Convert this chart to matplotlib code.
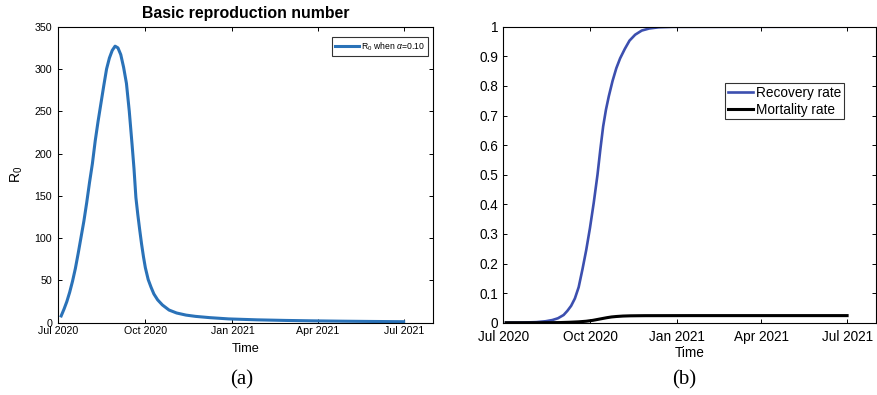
import matplotlib
matplotlib.use("Agg")
import matplotlib.pyplot as plt
import matplotlib.dates as mdates
import numpy as np

plt.rcParams.update({
    "font.family": ["Liberation Sans", "DejaVu Sans"],
    "axes.linewidth": 0.8,
    "mathtext.fontset": "custom",
    "mathtext.rm": "Liberation Sans",
    "mathtext.it": "Liberation Sans:italic",
})

START = np.datetime64("2020-07-01")

# -- panel (a): basic reproduction number, days after 1 Jul 2020 --
r0_days = [3, 6, 9, 12, 15, 18, 21, 24, 27, 30, 33, 36, 39, 42, 45, 48, 51, 54,
           57, 60, 63, 66, 69, 72, 75, 78, 80, 82, 84, 86, 88, 90, 92, 95, 98,
           101, 105, 110, 117, 125, 135, 145, 160, 180, 210, 240, 270, 300,
           330, 365]
r0_vals = [8, 16, 25, 36, 49, 64, 82, 101, 120, 142, 166, 188, 215, 238, 259,
           280, 300, 313, 322, 327, 325, 317, 302, 283, 250, 210, 182, 148, 128,
           110, 93, 78, 65, 51, 42, 34, 27, 21, 15, 11.5, 9, 7.5, 6, 4.5, 3.4,
           2.7, 2.2, 1.8, 1.5, 1.2]

# -- panel (b): recovery and mortality rate --
rec_days = [3, 20, 35, 45, 52, 58, 64, 68, 72, 76, 80, 84, 88, 92, 96, 100, 103,
            106, 109, 112, 116, 120, 124, 129, 134, 140, 147, 155, 165, 180, 365]
rec_vals = [0, 0.0005, 0.002, 0.005, 0.009, 0.015, 0.026, 0.04, 0.057, 0.082,
            0.12, 0.18, 0.245, 0.32, 0.405, 0.5, 0.585, 0.663, 0.72, 0.765,
            0.817, 0.86, 0.893, 0.925, 0.953, 0.973, 0.987, 0.994, 0.998,
            0.9995, 1.0]

mort_days = [3, 40, 60, 70, 80, 88, 95, 100, 105, 110, 115, 120, 127, 135, 150,
             200, 365]
mort_vals = [0, 0, 0.0005, 0.0015, 0.003, 0.005, 0.008, 0.011, 0.014, 0.017,
             0.0195, 0.021, 0.0225, 0.0233, 0.0238, 0.024, 0.024]

tick_dates = ["2020-07-01", "2020-10-01", "2021-01-01", "2021-04-01", "2021-07-01"]


def to_dates(days):
    return START + np.array(days).astype("timedelta64[D]")


fig = plt.figure(figsize=(8.77, 3.95), dpi=100)
ax1 = fig.add_axes([0.0665, 0.183, 0.4272, 0.7494])
ax2 = fig.add_axes([0.5739, 0.183, 0.4253, 0.7494])

xlim = (START, START + np.timedelta64(396, "D"))
ticks = [np.datetime64(d) for d in tick_dates]

for ax, fs in [(ax1, 7.7), (ax2, 9.8)]:
    ax.set_xlim(*xlim)
    ax.set_xticks(ticks)
    ax.xaxis.set_major_formatter(mdates.DateFormatter("%b %Y"))
    ax.tick_params(direction="in", top=True, right=True, length=3,
                   width=0.7, labelsize=fs)

# (a)
ax1.plot(to_dates(r0_days), r0_vals, color="#2a72b8", lw=2.2,
         label=r"R$_0$ when $\alpha$=0.10")
ax1.set_ylim(0, 350)
ax1.set_yticks(np.arange(0, 351, 50))
ax1.tick_params(axis="y", pad=4.5)
ax1.tick_params(axis="x", pad=2.5)
ax1.set_title("Basic reproduction number", fontsize=11.4, fontweight="bold",
              pad=6)
ax1.set_xlabel("Time", fontsize=9.2, labelpad=5)
ax1.set_ylabel("R$_0$", fontsize=10, labelpad=7)
leg1 = ax1.legend(loc="upper right", bbox_to_anchor=(0.987, 0.965),
                  borderaxespad=0, fontsize=6.2, fancybox=False,
                  edgecolor="black", handlelength=2.8, handletextpad=0.25,
                  borderpad=0.35)
leg1.get_frame().set_linewidth(0.8)

# (b)
ax2.plot(to_dates(rec_days), rec_vals, color="#3c4faf", lw=1.9,
         label="Recovery rate")
ax2.plot(to_dates(mort_days), mort_vals, color="black", lw=2.2,
         label="Mortality rate")
ax2.set_ylim(0, 1)
ax2.set_yticks(np.arange(0, 1.01, 0.1))
ax2.set_yticklabels(["0", "0.1", "0.2", "0.3", "0.4", "0.5", "0.6", "0.7",
                     "0.8", "0.9", "1"])
ax2.tick_params(axis="y", pad=3.6)
ax2.tick_params(axis="x", pad=5)
ax2.set_xlabel("Time", fontsize=9.8, labelpad=1.5)
leg2 = ax2.legend(loc="upper right", bbox_to_anchor=(0.9137, 0.809),
                  borderaxespad=0, fontsize=9.8, fancybox=False,
                  edgecolor="black", handlelength=1.85, handletextpad=0.25,
                  borderpad=0.2, labelspacing=0.2)
leg2.get_frame().set_linewidth(0.8)

fig.text(241.7 / 877, 1 - 380 / 395, "(a)", family="Liberation Serif",
         fontsize=15, ha="center", va="center")
fig.text(684.3 / 877, 1 - 380 / 395, "(b)", family="Liberation Serif",
         fontsize=15, ha="center", va="center")

fig.savefig("out.png", dpi=100)
